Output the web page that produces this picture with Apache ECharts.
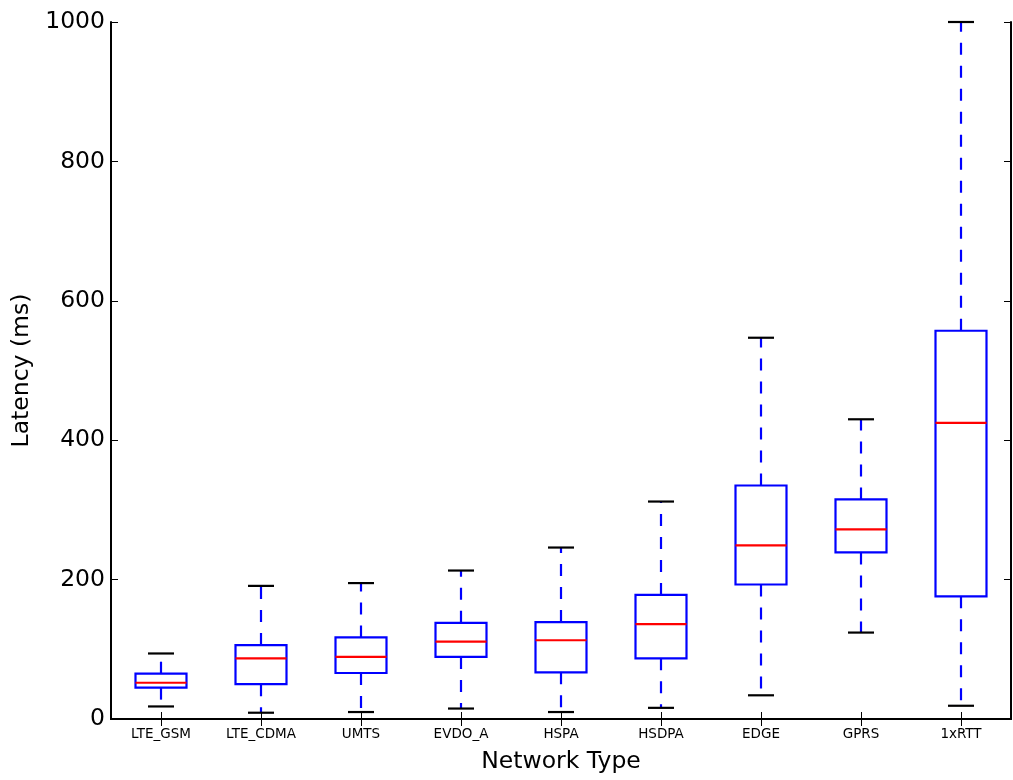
<!DOCTYPE html>
<html>
<head>
<meta charset="utf-8">
<title>Latency by Network Type</title>
<script src="https://cdn.jsdelivr.net/npm/echarts@6/dist/echarts.min.js"></script>
<style>
  html, body { margin: 0; padding: 0; background: #ffffff; overflow: hidden; }
  #chart { width: 1013px; height: 780px; }
</style>
</head>
<body>
<div id="chart"></div>
<script>
// Latency (ms) distribution per network type: whiskers, quartiles and median
const categories = ['LTE_GSM', 'LTE_CDMA', 'UMTS', 'EVDO_A', 'HSPA', 'HSDPA', 'EDGE', 'GPRS', '1xRTT'];
const whiskerLow  = [18, 9, 10, 15, 10, 16, 34, 124, 19];
const quartile1   = [45, 50, 66, 89, 67, 87, 193, 239, 176];
const medians     = [52, 87, 89, 111, 113, 136, 249, 272, 425];
const quartile3   = [65, 106, 117, 138, 139, 178, 335, 315, 557];
const whiskerHigh = [94, 191, 195, 213, 246, 312, 547, 430, 1000];
const yTicks = [0, 200, 400, 600, 800, 1000];

const FONT = 'DejaVu Sans';
const BLUE = '#0000ff';
const RED = '#ff0000';
const BLACK = '#000000';

const boxData = categories.map((c, i) => [i, whiskerLow[i], quartile1[i], medians[i], quartile3[i], whiskerHigh[i]]);

function renderBox(params, api) {
  const idx = api.value(0);
  const band = api.size([1, 0])[0];
  const boxHalf = band * 0.255;
  const capHalf = band * 0.13;
  const pLow = api.coord([idx, api.value(1)]);
  const pQ1 = api.coord([idx, api.value(2)]);
  const pMed = api.coord([idx, api.value(3)]);
  const pQ3 = api.coord([idx, api.value(4)]);
  const pHigh = api.coord([idx, api.value(5)]);
  const cx = pMed[0];
  const whiskerStyle = { stroke: BLUE, lineWidth: 2.2, lineDash: [12, 11], fill: null };
  const capStyle = { stroke: BLACK, lineWidth: 2.2 };
  return {
    type: 'group',
    children: [
      { type: 'line', shape: { x1: cx, y1: pQ3[1], x2: cx, y2: pHigh[1] }, style: whiskerStyle },
      { type: 'line', shape: { x1: cx, y1: pQ1[1], x2: cx, y2: pLow[1] }, style: whiskerStyle },
      { type: 'line', shape: { x1: cx - capHalf, y1: pHigh[1], x2: cx + capHalf, y2: pHigh[1] }, style: capStyle },
      { type: 'line', shape: { x1: cx - capHalf, y1: pLow[1], x2: cx + capHalf, y2: pLow[1] }, style: capStyle },
      { type: 'rect', shape: { x: cx - boxHalf, y: pQ3[1], width: boxHalf * 2, height: pQ1[1] - pQ3[1] },
        style: { fill: '#ffffff', stroke: BLUE, lineWidth: 2.2 } },
      { type: 'line', shape: { x1: cx - boxHalf, y1: pMed[1], x2: cx + boxHalf, y2: pMed[1] },
        style: { stroke: RED, lineWidth: 2.2 } }
    ]
  };
}

const axisLine = { show: true, lineStyle: { color: BLACK, width: 2 } };
const tickIn = { show: true, inside: true, length: 7, lineStyle: { color: BLACK, width: 1 } };

const chart = echarts.init(document.getElementById('chart'), null, { renderer: 'canvas' });
chart.setOption({
  animation: false,
  backgroundColor: '#ffffff',
  grid: { left: 111, width: 900, top: 22, height: 697, containLabel: false, outerBoundsMode: 'none' },
  xAxis: [
    {
      type: 'category', data: categories, position: 'bottom', boundaryGap: true,
      name: 'Network Type', nameLocation: 'middle', nameGap: 31,
      nameTextStyle: { fontFamily: FONT, fontSize: 23.5, color: BLACK },
      axisLine: axisLine,
      axisTick: Object.assign({ alignWithLabel: true }, tickIn),
      axisLabel: { fontFamily: FONT, fontSize: 13.5, color: BLACK, margin: 8, interval: 0 },
      splitLine: { show: false }
    },
    {
      type: 'category', data: categories, position: 'top', boundaryGap: true,
      axisLine: axisLine,
      axisTick: Object.assign({ alignWithLabel: true }, tickIn),
      axisLabel: { show: false },
      splitLine: { show: false }
    }
  ],
  yAxis: [
    {
      type: 'value', min: 0, max: 1000, interval: 200, position: 'left',
      name: 'Latency (ms)', nameLocation: 'middle', nameGap: 77,
      nameTextStyle: { fontFamily: FONT, fontSize: 23.5, color: BLACK },
      axisLine: axisLine,
      axisTick: tickIn,
      axisLabel: {
        fontFamily: FONT, fontSize: 23.5, color: BLACK, margin: 6,
        formatter: v => (yTicks.indexOf(v) >= 0 ? String(v) : '')
      },
      splitLine: { show: false }
    },
    {
      type: 'value', min: 0, max: 1000, interval: 200, position: 'right',
      axisLine: axisLine,
      axisTick: tickIn,
      axisLabel: { show: false },
      splitLine: { show: false }
    }
  ],
  series: [
    {
      type: 'custom',
      name: 'Latency',
      xAxisIndex: 0,
      yAxisIndex: 0,
      renderItem: renderBox,
      encode: { x: 0, y: [1, 2, 3, 4, 5] },
      data: boxData,
      clip: false
    }
  ]
});
</script>
</body>
</html>
